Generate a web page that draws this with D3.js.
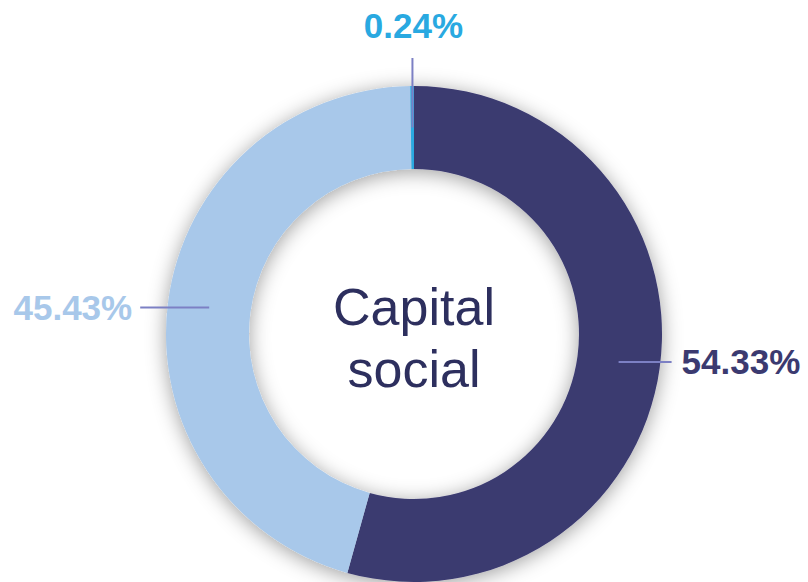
<!DOCTYPE html>
<html>
<head>
<meta charset="utf-8">
<script src="https://cdn.jsdelivr.net/npm/d3@7"></script>
<style>
  html, body { margin: 0; padding: 0; background: #fff; }
  svg { display: block; }
  .pct { font-family: 'Liberation Sans', Arial, sans-serif; font-weight: bold; font-size: 35px; }
  .center-text { font-family: 'Liberation Sans', Arial, sans-serif; font-size: 52px; fill: #2d2f5e; }
  .leader { stroke: #7c80c4; stroke-width: 2; fill: none; }
</style>
</head>
<body>
<div id="chart"></div>
<script>
// Chart data
const categories = ['A', 'B', 'C']
const values = [54.33, 45.43, 0.24]
const colors = ['#3b3a70', '#a8c8ea', '#29a9e1']
const labelSides = ['right', 'left', 'top']
const centerLines = ['Capital', 'social']

const width = 808
const height = 582
const cx = 414
const cy = 334
const outerRadius = 248
const innerRadius = 165
const midRadius = (outerRadius + innerRadius) / 2

const svg = d3.select('#chart')
  .append('svg')
  .attr('width', width)
  .attr('height', height)

// Soft shadow around the ring
const defs = svg.append('defs')
const filter = defs.append('filter')
  .attr('id', 'ring_shadow')
  .attr('x', '-20%').attr('y', '-20%')
  .attr('width', '140%').attr('height', '140%')
filter.append('feDropShadow')
  .attr('dx', 0)
  .attr('dy', 3)
  .attr('stdDeviation', 10)
  .attr('flood-color', '#000')
  .attr('flood-opacity', 0.38)

const g = svg.append('g')
  .attr('transform', `translate(${cx}, ${cy})`)

const pie = d3.pie().sort(null).value(d => d)
const arcs = pie(values)

const arc = d3.arc()
  .innerRadius(innerRadius)
  .outerRadius(outerRadius)

const slices = g.append('g').attr('filter', 'url(#ring_shadow)')
slices.selectAll('path')
  .data(arcs)
  .enter()
  .append('path')
  .attr('d', arc)
  .attr('fill', (d, i) => colors[i])

// Leader lines + labels
arcs.forEach((d, i) => {
  const mid = (d.startAngle + d.endAngle) / 2
  const x0 = midRadius * Math.sin(mid)
  const y0 = -midRadius * Math.cos(mid)
  const side = labelSides[i]
  const text = d3.format('.2f')(values[i]) + '%'
  let x1 = x0, y1 = y0, tx, ty, anchor
  if (side === 'right') {
    x1 = x0 + 53
    tx = x1 + 10; ty = y1; anchor = 'start'
  } else if (side === 'left') {
    x1 = x0 - 69
    tx = x1 - 8; ty = y1; anchor = 'end'
  } else {
    y1 = 58 - cy
    tx = x1 + 1; ty = y1 - 32; anchor = 'middle'
  }
  g.append('line')
    .attr('class', 'leader')
    .attr('x1', x0).attr('y1', y0)
    .attr('x2', x1).attr('y2', y1)
  g.append('text')
    .attr('class', 'pct')
    .attr('x', tx)
    .attr('y', ty)
    .attr('dy', '0.35em')
    .attr('text-anchor', anchor)
    .attr('fill', colors[i])
    .text(text)
})

// Center title
const center = g.append('text')
  .attr('class', 'center-text')
  .attr('text-anchor', 'middle')
centerLines.forEach((t, i) => {
  center.append('tspan')
    .attr('x', 0)
    .attr('y', -9 + i * 62)
    .text(t)
})
</script>
</body>
</html>
